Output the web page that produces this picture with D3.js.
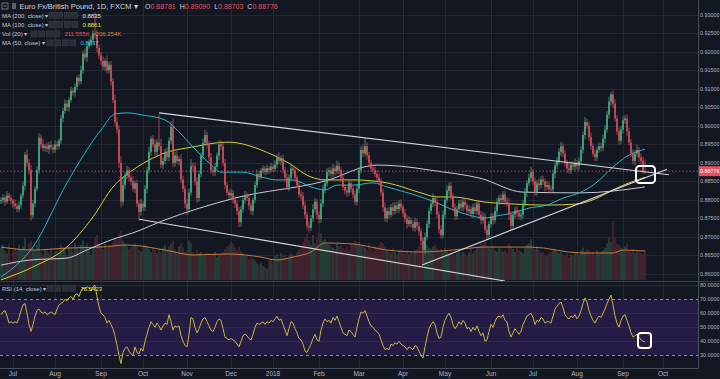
<!DOCTYPE html>
<html><head><meta charset="utf-8">
<script src="https://cdn.jsdelivr.net/npm/d3@7/dist/d3.min.js"></script>
<style>html,body{margin:0;padding:0;background:#131722;overflow:hidden}svg{display:block}text{font-family:"Liberation Sans",Arial,sans-serif}</style>
</head><body><svg id="c" width="720" height="379"></svg>
<script>
// ---------- DATA (prices in pips above 0.8000) ----------
const startDate = "2017-06-23";
const futureBars = 26;
const closes = [
800,806,795,812,805,798,790,783,775,786,
812,838,922,900,880,758,790,830,880,968,
950,940,945,938,948,942,936,950,945,960,
1020,1040,1060,1050,1070,1095,1090,1105,1130,1120,
1150,1195,1185,1215,1225,1232,1250,1245,1210,1190,
1175,1160,1175,1150,1165,1120,1070,1010,990,900,
795,840,865,880,860,850,830,845,790,768,
790,780,830,880,930,965,950,930,955,945,
895,905,930,915,960,998,900,920,905,910,
855,830,790,775,820,892,890,850,805,870,
920,955,975,950,915,880,875,890,920,950,
945,900,840,820,812,818,800,790,770,740,
775,800,812,805,785,770,800,840,870,862,
880,885,875,886,880,890,884,895,915,905,
912,880,860,835,860,885,880,860,840,815,
810,785,760,730,725,750,775,795,760,748,
790,830,845,875,880,870,885,878,892,880,
860,835,825,820,845,830,815,795,830,880,
935,925,945,920,900,885,880,870,860,850,
820,780,750,770,760,780,770,785,775,790,
780,765,750,735,745,735,725,740,730,715,
690,665,700,735,770,790,805,795,760,720,
705,760,800,825,838,810,780,756,775,790,
780,795,785,770,775,762,780,770,790,760,
745,755,720,705,735,755,745,770,795,805,
800,815,795,790,760,730,760,772,765,755,
760,790,820,845,860,875,850,820,845,840,
855,850,835,840,830,828,870,893,905,930,
945,925,900,885,880,895,890,900,892,905,
935,975,1010,1000,970,945,925,915,935,945,
940,965,990,1030,1065,1085,1060,1020,985,960,
990,1015,1020,985,955,925,905,925,935,915,
905,878.1,877.6];
const wickUp = [
8,10,6,12,7,9,5,11,8,10, 6,12,8,15,10,14,9,7,10,12, 9,14,6,10,8,12,7,11,9,6, 10,8,12,9,7,11,8,10,6,9,
12,8,14,10,9,11,8,56,13,10, 9,12,7,15,8,10,9,14,12,11, 18,20,10,12,9,8,14,7,10,9, 12,8,10,9,14,7,11,13,9,75,
20,10,8,12,9,15,22,10,12,8, 14,10,9,12,11,18,8,12,10,9, 8,11,14,10,9,12,7,10,8,11, 12,9,10,7,8,12,9,10,8,11,
9,10,12,8,11,9,7,10,12,8, 6,8,7,9,6,10,8,12,9,14, 8,10,9,12,8,11,9,10,8,12, 9,11,10,8,12,9,14,10,8,9,
12,10,9,11,8,10,12,9,14,10, 9,12,8,10,9,11,8,10,12,9, 10,14,22,10,9,8,12,9,10,11, 9,10,12,8,11,9,14,8,10,9,
12,8,10,9,11,8,10,12,9,10, 8,9,12,10,9,11,14,8,10,9, 11,12,10,14,9,10,8,11,9,10, 12,9,10,8,11,9,10,12,8,9,
10,12,9,11,8,10,9,12,10,8, 11,9,10,12,14,8,10,9,11,8, 10,9,12,8,11,14,9,10,8,12, 9,10,8,11,9,10,12,9,11,10,
12,9,10,8,11,9,10,12,8,10, 11,10,14,9,10,12,8,11,9,10, 9,11,12,10,14,6,10,12,9,11, 10,12,9,11,10,9,12,10,14,9,
10,12,30.9];
const wickDn = [
7,9,11,6,8,10,12,7,9,8, 10,8,12,9,11,14,8,10,7,9, 12,8,10,9,14,7,11,9,10,8, 9,11,8,10,12,7,9,11,8,10,
8,10,9,12,7,11,10,9,12,10, 11,9,12,10,8,12,9,10,11,14, 15,10,12,9,11,10,8,12,9,20, 11,9,10,12,8,10,9,11,12,10,
9,12,8,10,11,9,12,10,8,11, 10,9,12,14,10,8,11,9,12,10, 9,11,8,10,12,9,11,10,8,12, 10,9,11,8,10,12,9,11,10,14,
12,9,10,8,11,10,12,9,8,10, 7,9,8,6,10,7,9,8,10,9, 11,9,10,8,12,9,10,11,8,10, 12,9,11,10,14,8,10,9,12,11,
10,8,12,9,11,10,8,12,9,10, 11,9,10,12,8,10,11,9,10,12, 9,10,8,11,12,9,10,8,11,9, 10,12,9,11,10,8,12,9,10,11,
9,11,10,12,8,10,9,11,10,12, 11,37,10,9,11,8,10,12,9,11, 10,9,11,8,12,10,9,11,10,8, 9,11,10,12,8,10,11,9,10,12,
11,9,10,14,8,10,12,9,11,10, 9,12,10,8,14,11,9,10,12,8, 10,11,9,12,8,10,11,9,10,12, 9,10,12,8,11,9,10,12,9,10,
11,9,10,12,8,10,9,11,10,12, 9,10,11,8,12,10,9,11,10,8, 10,9,12,8,11,10,12,9,10,11, 9,11,10,12,8,10,9,11,10,12,
10,8,7.3];
const volumes = [ // thousands
230,250,210,190,260,140,200,230,210,250, 220,240,300,210,260,280,230,210,250,290,
200,180,220,210,190,230,170,200,220,190, 250,230,210,180,240,220,200,260,230,210,
250,280,240,260,220,180,240,300,320,260, 240,220,260,230,250,240,270,300,280,330,
350,280,260,240,220,230,250,260,240,210, 200,230,250,240,220,200,230,210,190,220,
200,230,250,210,240,260,280,210,190,240, 260,230,200,210,280,260,200,180,210,190,
200,170,180,200,190,170,180,200,160,180, 190,200,220,240,250,270,260,230,210,240,
200,190,170,180,150,160,150,140,120,110, 120,100,90,80,140,150,130,170,180,160,
190,170,180,150,170,190,180,160,200,220, 240,270,300,330,280,250,320,260,300,340,
330,280,290,260,250,240,230,220,260,240, 250,230,220,240,210,260,250,280,260,270,
240,250,230,210,260,220,200,240,230,250, 270,260,240,210,200,190,230,200,180,210,
220,200,190,210,180,200,190,210,220,240, 260,300,270,250,230,220,240,250,230,210,
220,200,230,210,190,200,180,170,190,200, 180,200,190,170,200,220,190,210,230,240,
260,250,270,240,230,220,240,210,200,230, 220,200,210,190,260,240,220,200,230,210,
200,190,230,250,260,290,250,220,240,210, 190,200,180,170,190,200,210,220,200,190,
200,180,170,190,160,180,170,190,200,180, 210,230,200,220,210,190,200,180,210,190,
200,210,230,260,300,270,420,300,260,250, 230,220,240,260,210,200,220,190,210,200,
190,180,211.555];
const rsi = [
59,61,62,58,53,54,53,54,53,57, 62,66,67,60,52,47,52,58,62,63,
61,60,61,59,60,61,60,59,63,66, 67,68,70,69,71,72,70,73,74,72,
76,78,77,79,78,76,79,80,72,65, 60,59,57,53,55,52,49,44,37,30,
24,32,35,36,33,31,30,36,32,31, 35,33,40,45,50,54,52,50,53,51,
48,51,53,52,59,54,48,51,50,51, 44,40,37,36,45,57,56,50,46,49,
53,56,57,54,51,48,47,50,54,56, 55,49,43,42,41,42,41,40,38,36,
40,44,45,44,42,41,45,50,53,52, 53,54,52,54,53,55,54,56,58,55,
56,52,48,44,49,54,53,49,46,42, 41,38,33,32,35,38,42,45,41,40,
48,53,56,54,55,53,57,55,58,54, 50,46,45,44,48,47,45,43,50,56,
61,60,62,58,54,51,50,48,47,45, 41,37,34,35,34,38,37,39,38,40,
38,37,36,34,36,35,34,37,36,33, 30,28,36,43,49,52,54,52,46,42,
43,50,55,58,60,57,52,49,51,54, 52,55,53,49,50,47,50,48,51,47,
44,46,40,41,47,52,50,54,57,58, 57,59,55,54,47,43,46,49,47,45,
47,52,55,58,59,60,57,52,55,54, 57,56,53,54,54,53,58,63,65,67,
68,64,59,57,56,58,57,59,56,58, 62,67,71,68,62,58,55,53,56,58,
57,60,63,67,70,73,66,58,53,50, 55,58,59,55,51,46,43,44,45,43,
41,40,39.5];
// moving averages: [bar index, pips above 0.8000]
const ma50 = [[0,592],[16,673],[33,846],[50,989],[57,1032],[63,1035],[71,1029],[82,1016],[88,989],[96,943],[104,900],[110,875],[121,875],[130,862],[138,854],[146,854],[155,835],[162,827],[168,840],[176,840],[186,846],[193,835],[210,808],[218,792],[226,773],[234,759],[242,751],[248,757],[256,765],[264,778],[273,786],[281,805],[290,821],[298,848],[306,889],[314,921],[322,937]];
const ma100 = [[0,584],[16,619],[33,673],[46,754],[56,835],[66,881],[76,913],[82,927],[96,943],[113,956],[118,954],[130,935],[143,902],[155,862],[162,854],[176,854],[193,846],[210,819],[218,808],[226,808],[242,794],[256,789],[273,786],[288,789],[298,805],[306,827],[314,846],[322,861]];
const ma200 = [[0,624],[15,638],[33,643],[43,665],[55,692],[66,711],[82,746],[117,805],[162,851],[188,894],[200,891],[215,880],[240,858],[261,821],[290,819],[322,835]];
const volMA = [[0,234],[16,213],[33,227],[50,234],[63,249],[82,213],[96,178],[113,185],[130,163],[138,142],[146,163],[155,199],[162,263],[176,256],[185,234],[193,213],[210,199],[226,213],[242,234],[265,234],[290,192],[306,192],[311,213],[322,206]];
// drawn trendlines: [bar index, price]
const trendlines = [
  [[79,0.9035],[334,0.8868]],
  [[69,0.8748],[252,0.8581]],
  [[210.5,0.8624],[333,0.8883]]
];
const priceTicks = d3.range(0,15).map(k => 0.86 + k*0.005);
const rsiTicks = [80,70,60,50,40,30];
const lastBar = {o:0.88781,h:0.89090,l:0.88703,c:0.88776};
const legend = {ma200:"0.8835", ma100:"0.8861", volCur:"211.555K", volMA:"206.254K", ma50:"0.8937", rsi:"75.5423"};

// ---------- BUILD ----------
const P = v => 0.8 + v/10000;
const n = closes.length;
const bars = closes.map((c,i) => {
  const o = i === 0 ? closes[0] - 4 : closes[i-1];
  return {i, o:P(o), c:P(c), h:P(Math.max(o,c)+wickUp[i]), l:P(Math.min(o,c)-wickDn[i]), v:volumes[i]};
});
bars[n-1].o = lastBar.o; bars[n-1].h = lastBar.h; bars[n-1].l = lastBar.l; bars[n-1].c = lastBar.c;

// trading-day calendar
const dates = [];
{ let d = new Date(startDate + "T00:00:00Z");
  while (dates.length < n + futureBars) {
    const wd = d.getUTCDay();
    if (wd !== 0 && wd !== 6) dates.push(new Date(d));
    d = new Date(d.getTime() + 86400000);
  } }
const monthTicks = [];
dates.forEach((d,i) => { if (i>0 && d.getUTCMonth() !== dates[i-1].getUTCMonth()) monthTicks.push({i, label: d.getUTCMonth()===0 ? String(d.getUTCFullYear()) : d3.utcFormat("%b")(d)}); });

const W = 698;
const x = d3.scaleLinear().domain([-0.5, n + futureBars - 0.5]).range([0, W]);
const y = d3.scaleLinear().domain([0.86, 0.93]).range([274, 14.7]);
const yv = d3.scaleLinear().domain([0, 1990]).range([280, 0]);
const yr = d3.scaleLinear().domain([30, 70]).range([355.3, 299.3]);

const svg = d3.select("#c");
svg.append("rect").attr("width",720).attr("height",379).attr("fill","#131722");
const defs = svg.append("defs");
defs.append("clipPath").attr("id","cm").append("rect").attr("x",0).attr("y",0).attr("width",W).attr("height",281);
defs.append("clipPath").attr("id","cr").append("rect").attr("x",0).attr("y",282).attr("width",W).attr("height",86);

const grid = svg.append("g").attr("stroke","#232734").attr("stroke-width",1);
grid.selectAll(".hg").data(priceTicks).join("line").attr("x1",0).attr("x2",W).attr("y1",d=>Math.round(y(d))+0.5).attr("y2",d=>Math.round(y(d))+0.5);
grid.selectAll(".vg").data(monthTicks).join("line").attr("y1",0).attr("y2",368).attr("x1",d=>Math.round(x(d.i))+0.5).attr("x2",d=>Math.round(x(d.i))+0.5);

// RSI pane
const rp = svg.append("g").attr("clip-path","url(#cr)");
rp.append("rect").attr("x",0).attr("width",W).attr("y",yr(70)).attr("height",yr(30)-yr(70)).attr("fill","#251c46");
rp.selectAll(".rg").data([80,60,50,40]).join("line").attr("x1",0).attr("x2",W).attr("y1",d=>Math.round(yr(d))+0.5).attr("y2",d=>Math.round(yr(d))+0.5).attr("stroke","#2e2a4a");
rp.selectAll(".rd").data([70,30]).join("line").attr("x1",0).attr("x2",W).attr("y1",d=>Math.round(yr(d))+0.5).attr("y2",d=>Math.round(yr(d))+0.5).attr("stroke","#8c8c9c").attr("stroke-dasharray","3,3");
rp.append("path").datum(rsi).attr("fill","none").attr("stroke","#c9b53a").attr("stroke-width",1)
  .attr("d", d3.line().x((d,i)=>x(i)).y(d=>yr(d)));

// main pane
const mp = svg.append("g").attr("clip-path","url(#cm)");
// volume
mp.selectAll(".vb").data(bars).join("rect")
  .attr("x",d=>x(d.i)-0.8).attr("width",1.6)
  .attr("y",d=>yv(d.v)).attr("height",d=>yv(0)-yv(d.v))
  .attr("fill",d=>d.c>=d.o ? "#27473f" : "#4d2632");
const lineIV = d3.line().curve(d3.curveMonotoneX).x(d=>x(d[0])).y(d=>yv(d[1]));
mp.append("path").attr("d",lineIV(volMA)).attr("fill","none").attr("stroke","#c8773a").attr("stroke-width",1);
// moving averages
const lineMA = d3.line().curve(d3.curveMonotoneX).x(d=>x(d[0])).y(d=>y(P(d[1])));
mp.append("path").attr("d",lineMA(ma200)).attr("fill","none").attr("stroke","#c9cbd2").attr("stroke-width",1);
mp.append("path").attr("d",lineMA(ma100)).attr("fill","none").attr("stroke","#d4d02a").attr("stroke-width",1);
mp.append("path").attr("d",lineMA(ma50)).attr("fill","none").attr("stroke","#21b8c7").attr("stroke-width",1);
// candles
const up="#4bb586", dn="#e4505f";
mp.selectAll(".wk").data(bars).join("line")
  .attr("x1",d=>x(d.i)).attr("x2",d=>x(d.i)).attr("y1",d=>y(d.h)).attr("y2",d=>y(d.l))
  .attr("stroke",d=>d.c>=d.o?up:dn).attr("stroke-width",0.7);
mp.selectAll(".bd").data(bars).join("rect")
  .attr("x",d=>x(d.i)-0.75).attr("width",1.5)
  .attr("y",d=>y(Math.max(d.o,d.c))).attr("height",d=>Math.max(0.8, Math.abs(y(d.o)-y(d.c))))
  .attr("fill",d=>d.c>=d.o?up:dn);
// price line
mp.append("line").attr("x1",0).attr("x2",W).attr("y1",y(lastBar.c)).attr("y2",y(lastBar.c)).attr("stroke","#e4505f").attr("stroke-dasharray","1.5,2").attr("opacity",0.8);
// trendlines
mp.selectAll(".tl").data(trendlines).join("line")
  .attr("x1",d=>x(d[0][0])).attr("y1",d=>y(d[0][1])).attr("x2",d=>x(d[1][0])).attr("y2",d=>y(d[1][1]))
  .attr("stroke","#d6d8de").attr("stroke-width",1.1);
// annotation boxes
svg.append("rect").attr("x",x(317.5)).attr("y",166).attr("width",19).attr("height",17).attr("rx",3.5).attr("fill","none").attr("stroke","#ffffff").attr("stroke-width",2);
svg.append("rect").attr("x",x(318.5)).attr("y",333).attr("width",13).attr("height",15).attr("rx",3).attr("fill","none").attr("stroke","#ffffff").attr("stroke-width",2);

// frame lines
svg.append("line").attr("x1",0).attr("x2",720).attr("y1",281.5).attr("y2",281.5).attr("stroke","#3b3f4b");
svg.append("line").attr("x1",W+0.5).attr("x2",W+0.5).attr("y1",0).attr("y2",368).attr("stroke","#4a4e5a");
svg.append("line").attr("x1",0).attr("x2",W+0.5).attr("y1",368.5).attr("y2",368.5).attr("stroke","#4a4e5a");

// right axis
const ax = svg.append("g").attr("font-size",5.4).attr("fill","#b2b5be");
ax.selectAll(".pl").data(priceTicks).join("text").attr("x",700).attr("y",d=>y(d)+2).text(d=>d3.format(".5f")(d));
ax.selectAll(".rl").data(rsiTicks).join("text").attr("x",700).attr("y",d=>yr(d)+2).text(d=>d3.format(".4f")(d));
svg.append("rect").attr("x",699).attr("y",y(lastBar.c)-5).attr("width",21).attr("height",10).attr("fill","#e4505f");
svg.append("text").attr("x",700).attr("y",y(lastBar.c)+2).attr("font-size",5.4).attr("fill","#fff").text(d3.format(".5f")(lastBar.c));
// x axis
svg.append("g").attr("font-size",6.5).attr("fill","#b2b5be").attr("text-anchor","middle")
  .selectAll("text").data(monthTicks).join("text").attr("x",d=>x(d.i)).attr("y",375.5).text(d=>d.label);

// legends
const lg = svg.append("g").attr("font-size",6);
lg.append("rect").attr("x",2).attr("y",3).attr("width",6).attr("height",6).attr("fill","none").attr("stroke","#9598a1").attr("stroke-width",0.7);
lg.append("line").attr("x1",3.5).attr("x2",6.5).attr("y1",6).attr("y2",6).attr("stroke","#9598a1").attr("stroke-width",0.7);
lg.append("rect").attr("x",12).attr("y",3).attr("width",4).attr("height",6).attr("fill","#5d606b");
lg.append("text").attr("x",19.5).attr("y",9.2).attr("font-size",7.5).attr("fill","#d1d4dc").text("Euro Fx/British Pound, 1D, FXCM ▾");
const ohlc = lg.append("text").attr("x",145).attr("y",9.2).attr("font-size",7).attr("fill","#d1d4dc");
[["O",lastBar.o],["H",lastBar.h],["L",lastBar.l],["C",lastBar.c]].forEach(([k,v],j)=>{
  ohlc.append("tspan").attr("dx", j?4:0).text(k);
  ohlc.append("tspan").attr("fill","#e4505f").text(d3.format(".5f")(v));
});
function row(yb, label, bx, items){
  lg.append("text").attr("x",2).attr("y",yb).attr("fill","#c3c6ce").text(label + " ▾");
  for (let k=0;k<4;k++) lg.append("rect").attr("x",bx+k*7.6).attr("y",yb-5.3).attr("width",6).attr("height",6).attr("fill","#2a2e39").attr("stroke","#3c404c").attr("stroke-width",0.5);
  let xx = bx + 4*7.6 + 3;
  items.forEach(([t,c])=>{ lg.append("text").attr("x",xx).attr("y",yb).attr("fill",c).text(t); xx += t.length*3.4 + 4; });
}
row(17.5,"MA (200, close)",49,[[legend.ma200,"#e8e8ea"]]);
row(26.8,"MA (100, close)",49,[[legend.ma100,"#e6e22c"]]);
row(36.2,"Vol (20)",31,[[legend.volCur,"#e4505f"],[legend.volMA,"#d98b46"]]);
row(45.2,"MA (50, close)",47,[[legend.ma50,"#25c7d6"]]);
row(290.5,"RSI (14, close)",47,[[legend.rsi,"#e8e02c"]]);
</script></body></html>
